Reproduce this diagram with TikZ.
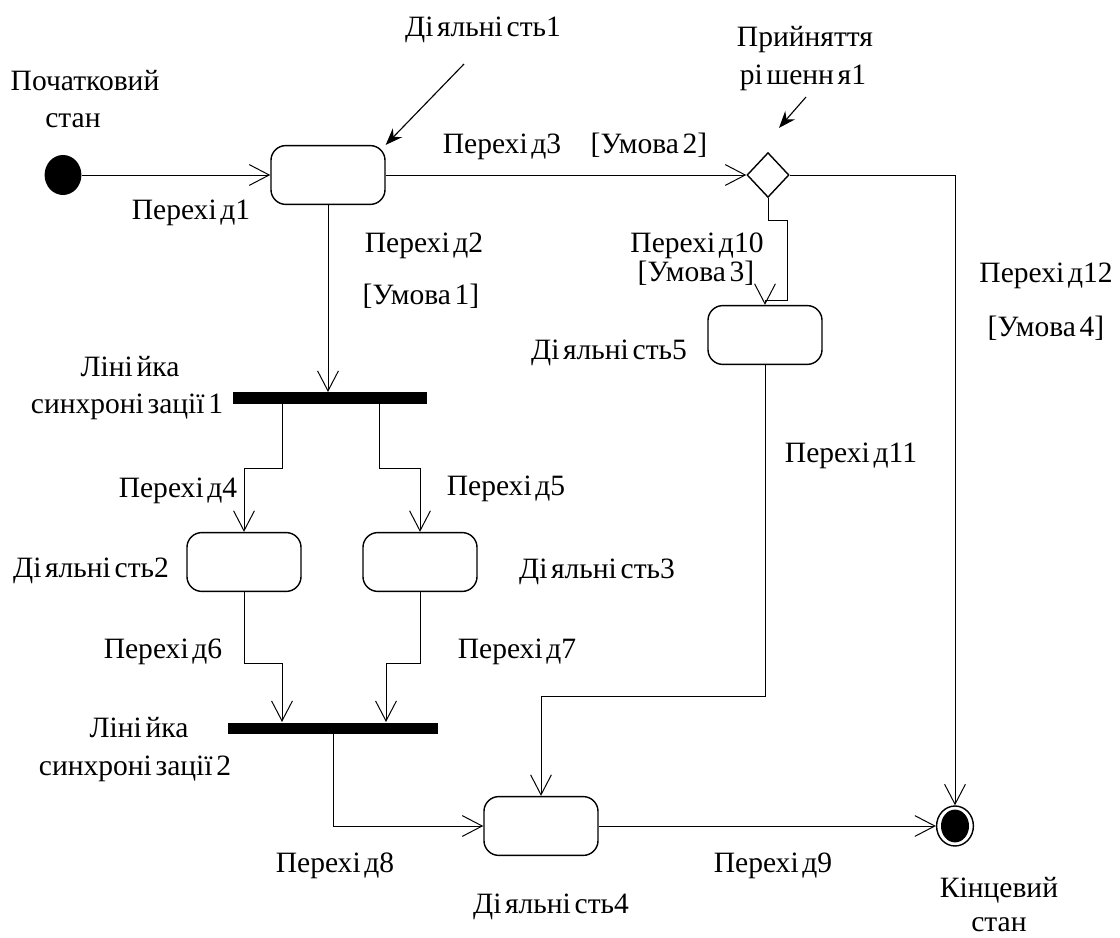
\documentclass[tikz,border=0pt]{standalone}
\usepackage{fontspec}
\setmainfont{LiberationSerif}[Extension=.ttf,UprightFont=*-Regular,
  BoldFont=*-Bold,WordSpace=0.5]
\usepackage{tikz}
\usetikzlibrary{positioning,arrows.meta,shapes.geometric,calc}

\begin{document}
\begin{tikzpicture}[x=0.025cm,y=-0.025cm,line width=0.7pt,
    >={Straight Barb[length=0.5cm,width=0.52cm]},
    activ/.style={rectangle,draw,line width=1pt,rounded corners=0.37cm,
      minimum width=2.85cm,minimum height=1.47cm},
    sync/.style={rectangle,fill=black,inner sep=0,minimum height=0.275cm},
    lbl/.style={anchor=base,inner sep=0,font=\rmfamily\fontsize{21}{24}\selectfont},
    ptr/.style={-{Stealth[length=0.42cm,width=0.32cm]},line width=0.8pt}]
  \useasboundingbox (0,0) rectangle (1120,938);

  % states, activities, bars
  \node[ellipse,fill=black,minimum width=0.92cm,minimum height=1cm,inner sep=0] (i0) at (63,175) {};
  \node[activ] (a1) at (328,175) {}; \node[activ] (a5) at (765,335) {};
  \node[diamond,draw,line width=1pt,inner sep=0,minimum width=1.05cm,
    minimum height=1.12cm] (d1) at (768,175) {};
  \node[sync,minimum width=4.83cm] (b1) at (330,398) {};
  \node[activ] (a2) at (244,562) {}; \node[activ] (a3) at (420,562) {};
  \node[sync,minimum width=5.23cm] (b2) at (333,728) {};
  \node[activ] (a4) at (541,826) {};
  \node[ellipse,draw,line width=1pt,minimum width=0.92cm,minimum height=1cm,
    inner sep=0] (f0) at (955,826) {};
  \fill (f0) ellipse (0.35cm and 0.41cm);

  % transitions
  \draw[->] (i0) -- (a1); \draw[->] (a1) -- (d1);
  \draw[->] (a1.south) -- (a1.south |- b1.north);
  \draw[->] (d1.south) -- ++(0,22) -| ++(19,80) -| (a5.north);
  \draw[->] (d1.east) -| (f0.north);
  \draw[->] (a5.south) -- ++(0,331) -| (a4.north);
  \draw[->] (b1.south) ++(-48,0) -- ++(0,64) -| (a2.north);
  \draw[->] (b1.south) ++(49,0) -- ++(0,64) -| (a3.north);
  \draw[->] (a2.south) -- ++(0,71) -| ($(b2.north)+(-51,0)$);
  \draw[->] (a3.south) -- ++(0,71) -| ($(b2.north)+(53,0)$);
  \draw[->] (b2.south) |- (a4.west); \draw[->] (a4) -- (f0);

  % pointers to the names
  \coordinate (p1) at (464,64); \coordinate (p2) at (806,97);
  \draw[ptr] (p1) -- (a1.north east);
  \draw[ptr] (p2) -- ($(d1.north)+(11,-24)$);

  % labels
  \node[lbl] (s0a) at (85,91) {Початковий}; \node[lbl] (s0b) at (73,128) {стан};
  \node[lbl] (l1) at (483,37) {Ді яльні сть1};
  \node[lbl] (r1) at (805,47) {Прийняття}; \node[lbl] (r2) at (803,85) {рі шенн я1};
  \node[lbl] (t1) at (191,220) {Перехі д1};
  \node[lbl] (t2) at (424,253) {Перехі д2}; \node[lbl] (c1) at (421,305) {[Умова 1]};
  \node[lbl] (t3) at (502,154) {Перехі д3}; \node[lbl] (c2) at (649,154) {[Умова 2]};
  \node[lbl] (t10) at (697,253) {Перехі д10}; \node[lbl] (c3) at (696,282) {[Умова 3]};
  \node[lbl] (l5) at (609,360) {Ді яльні сть5};
  \node[lbl] (t12) at (1046,283) {Перехі д12}; \node[lbl] (c4) at (1046,337) {[Умова 4]};
  \node[lbl] (k1a) at (130,377) {Ліні йка};
  \node[lbl] (k1b) at (127,414) {синхроні зації 1};
  \node[lbl] (t11) at (851,463) {Перехі д11};
  \node[lbl] (t4) at (178,497) {Перехі д4}; \node[lbl] (t5) at (506,496) {Перехі д5};
  \node[lbl] (l2) at (91,577) {Ді яльні сть2}; \node[lbl] (l3) at (597,578) {Ді яльні сть3};
  \node[lbl] (t6) at (163,658) {Перехі д6}; \node[lbl] (t7) at (517,658) {Перехі д7};
  \node[lbl] (k2a) at (139,737) {Ліні йка};
  \node[lbl] (k2b) at (135,775) {синхроні зації 2};
  \node[lbl] (t8) at (335,872) {Перехі д8}; \node[lbl] (t9) at (773,872) {Перехі д9};
  \node[lbl] (l4) at (551,913) {Ді яльні сть4};
  \node[lbl] (e1) at (999,897) {Кінцевий}; \node[lbl] (e2) at (999,931) {стан};
\end{tikzpicture}
\end{document}
